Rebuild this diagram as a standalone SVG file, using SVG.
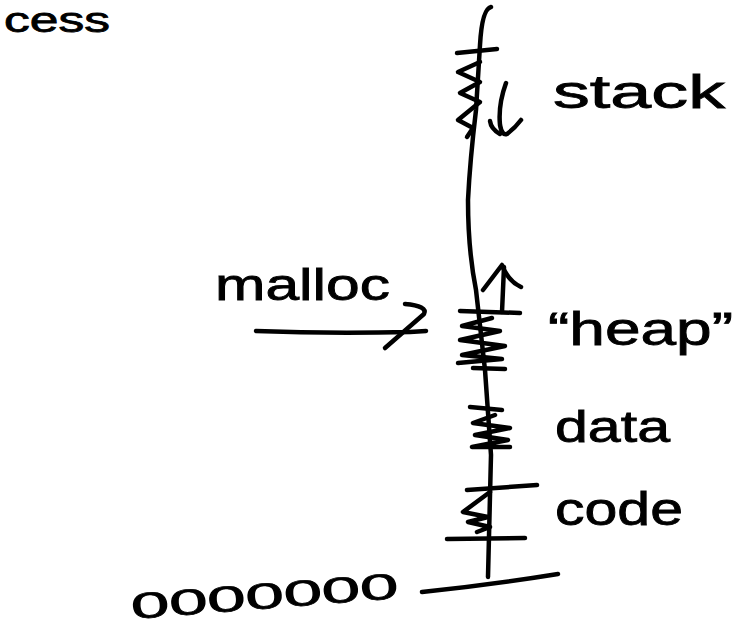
<svg xmlns="http://www.w3.org/2000/svg" width="751" height="627" viewBox="0 0 751 627">
  <style>
    .ink { fill: none; stroke: #000; stroke-width: 4.5; stroke-linecap: round; stroke-linejoin: round; }
    .hand { font-family: "Liberation Sans", "DejaVu Sans", sans-serif; fill: #000; stroke: #000; stroke-width: 0.8; }
  </style>
  <rect width="751" height="627" fill="#fff"/>

  <!-- title fragment at the top-left edge -->
  <g id="title">
    <text class="hand" x="4" y="32" font-size="35" textLength="106" lengthAdjust="spacingAndGlyphs">cess</text>
  </g>

  <!-- address-space axis -->
  <g id="axis">
    <path class="ink" d="M491,7 Q482,9 480,45 L476,110 Q470,160 468,200 Q468,250 476,290 L485,370 L491,455 L488,577"/>
    <path class="ink" d="M422,592 Q490,585 558,574"/>
  </g>

  <!-- stack region -->
  <g id="stack">
    <path class="ink" d="M457,53 L497,49"/>
    <path class="ink" d="M480,62 L458,72 L480,82 L460,93 L480,102 L458,120 L473,128 L467,137"/>
    <path class="ink" d="M506,83 Q498,105 500,125 Q502,136 507,134 Q515,128 521,120"/>
    <path class="ink" d="M490,121 Q491,129 500,134"/>
    <text class="hand" x="553" y="108" font-size="46" textLength="172" lengthAdjust="spacingAndGlyphs">stack</text>
  </g>

  <!-- heap region -->
  <g id="heap">
    <path class="ink" d="M502,312 L504,267"/>
    <path class="ink" d="M483,290 L502,265 Q508,281 521,287"/>
    <path class="ink" d="M460,311 L520,313"/>
    <path class="ink" d="M492,318 L462,326 L500,331 L460,340 L505,346 L462,355 L502,359 L458,363"/>
    <path class="ink" d="M473,368 L505,369"/>
    <text class="hand" x="548" y="345" font-size="46" textLength="185" lengthAdjust="spacingAndGlyphs">“heap”</text>
  </g>

  <!-- data region -->
  <g id="data">
    <path class="ink" d="M470,407 L502,410"/>
    <path class="ink" d="M495,415 L473,423 L510,428 L475,435 L508,440 L472,447 L510,447"/>
    <text class="hand" x="555" y="442" font-size="44" textLength="115" lengthAdjust="spacingAndGlyphs">data</text>
  </g>

  <!-- code region -->
  <g id="code">
    <path class="ink" d="M467,490 L537,485"/>
    <path class="ink" d="M490,492 L463,512 L488,517 L468,522 L490,527 L477,532"/>
    <path class="ink" d="M447,539 L525,538"/>
    <text class="hand" x="555" y="525" font-size="46" textLength="128" lengthAdjust="spacingAndGlyphs">code</text>
  </g>

  <!-- malloc label -->
  <g id="malloc">
    <text class="hand" x="215" y="300" font-size="44" textLength="175" lengthAdjust="spacingAndGlyphs">malloc</text>
  </g>

  <!-- bottom address label -->
  <g id="zero">
    <text class="hand" x="132" y="619" font-size="36" textLength="268" lengthAdjust="spacingAndGlyphs" transform="rotate(-4.5 132 619)">0000000</text>
  </g>

  <!-- connectors -->
  <g id="connectors">
    <path class="ink" d="M256,331 Q330,334 410,332 L426,331"/>
    <path class="ink" d="M405,304 Q428,306 424,314 L385,348"/>
  </g>
</svg>
